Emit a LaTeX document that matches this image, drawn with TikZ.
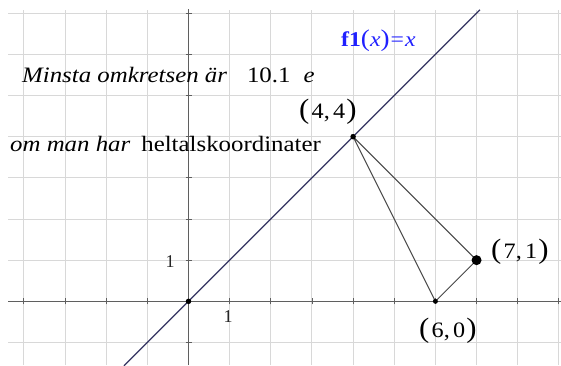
\documentclass[tikz,border=0pt]{standalone}
\usepackage{graphicx}
\usepackage{fontspec}
\setmainfont{Liberation Serif}
\definecolor{gridc}{RGB}{216,216,216}
\definecolor{axisc}{RGB}{95,95,95}
\definecolor{linec}{RGB}{52,52,98}
\definecolor{tric}{RGB}{70,70,70}
\definecolor{fblue}{RGB}{32,32,255}
\newcommand{\bigpar}[1]{{\fontsize{28}{28}\selectfont #1}}
\newcommand{\cpair}[2]{\scalebox{1.1}[1]{\bigpar{(}\hspace{2pt}#1,\hspace{3pt}#2\hspace{1pt}\bigpar{)}}}
\newcommand{\wide}[1]{\scalebox{1.13}[1]{#1}}
\tikzset{
  gridline/.style={draw=gridc, line width=1pt},
  axisline/.style={draw=axisc, line width=1.2pt},
  fline/.style={draw=linec, line width=1.2pt},
  triline/.style={draw=tric, line width=1pt},
  dot/.style={circle, fill=black, inner sep=0pt, minimum size=5.5pt},
  smalldot/.style={circle, fill=black, inner sep=0pt, minimum size=5pt},
  bigdot/.style={circle, fill=black, inner sep=0pt, minimum size=10pt},
  txt/.style={inner sep=0pt, font=\fontsize{22}{22}\selectfont},
  coordlbl/.style={inner sep=0pt, anchor=base west, font=\fontsize{22}{22}\selectfont},
  unitlbl/.style={inner sep=0pt, font=\fontsize{18}{18}\selectfont, text=black!85},
}
\begin{document}
\begin{tikzpicture}[x=1pt,y=-1pt]
\useasboundingbox[fill=white] (0,0) rectangle (561,365);
\begin{scope}[shift={(188.5,301.3)}, x=41.15pt, y=41.15pt]
  % grid
  \foreach \i in {-4,...,9} \draw[gridline] (\i,-1.548) -- (\i,7.08);
  \foreach \j in {-1,...,7} \draw[gridline] (-4.386,\j) -- (9.052,\j);
  % axes
  \coordinate (xl) at (-4.386,0);
  \coordinate (xr) at (9.052,0);
  \coordinate (yb) at (0,-1.548);
  \coordinate (yt) at (0,7.10);
  \draw[axisline] (xl) -- (xr);
  \draw[axisline] (yb) -- (yt);
  \foreach \i in {-4,...,9} \draw[axisline, line width=0.9pt] (\i,0) ++(0,-3pt) -- ++(0,6pt);
  \foreach \j in {-1,...,7} \draw[axisline, line width=0.9pt] (0,\j) ++(-3pt,0) -- ++(6pt,0);
  % f1(x)=x
  \coordinate (L1) at (-1.567,-1.567);
  \coordinate (L2) at (7.084,7.084);
  \draw[fline] (L1) -- (L2);
  % triangle
  \coordinate (pA) at (4,4);
  \coordinate (pB) at (6,0);
  \coordinate (pC) at (7,1);
  \draw[triline] (pA) -- (pB) -- (pC) -- cycle;
  \node[dot] (O) at (0,0) {};
  \node[dot] (A) at (pA) {};
  \node[smalldot] (B) at (pB) {};
  \node[bigdot] (C) at (pC) {};
\end{scope}
% texts
\node[txt, anchor=base west] (t1) at (22,82) {\wide{\itshape Minsta omkretsen är}\hspace{20pt}\wide{10.1}\hspace{13pt}\wide{\itshape e}};
\node[txt, anchor=base west] (t2) at (10,151) {\wide{\itshape om man har}\hspace{11pt}\wide{heltalskoordinater}};
\node[inner sep=0pt, anchor=base west, text=fblue, font=\fontsize{21}{21}\selectfont] (f1) at (341,46) {\wide{\textbf{f1}{\fontsize{24}{24}\selectfont(}\textit{x}{\fontsize{24}{24}\selectfont)}\hspace{1pt}=\hspace{1pt}\textit{x}}};
\node[coordlbl] (lA) at (299,118) {\cpair{4}{4}};
\node[coordlbl] (lC) at (491,258) {\cpair{7}{1}};
\node[coordlbl] (lB) at (419,337) {\cpair{6}{0}};
\node[unitlbl] (u1) at (170,262) {1};
\node[unitlbl] (u2) at (228,317) {1};
\end{tikzpicture}
\end{document}
